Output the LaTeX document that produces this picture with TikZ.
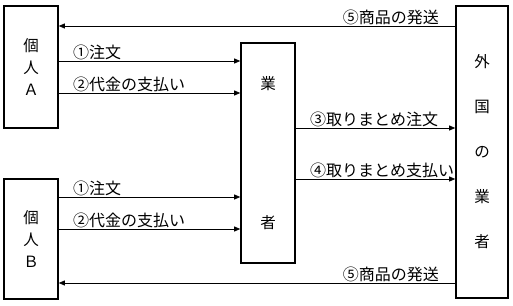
\documentclass[tikz,border=0pt]{standalone}
\usepackage{fontspec}
\newfontfamily\jpfont{Noto Sans CJK JP}
\usetikzlibrary{arrows.meta,positioning,calc}

\begin{document}
\begin{tikzpicture}[x=1pt, y=-1pt,
    box/.style={draw, line width=1.6pt, inner sep=0pt, align=center,
                font=\jpfont\fontsize{15.5}{#1}\selectfont},
    arr/.style={-{Triangle[length=6pt,width=5pt]}, line width=0.8pt},
    lbl/.style={font=\jpfont\fontsize{16}{18}\selectfont, inner sep=1pt}
  ]
    \useasboundingbox (0,0) rectangle (513,305);

    % --- Left: individuals ---
    \node[box=22, minimum width=54pt, minimum height=122pt] (A) at (31,67) {個\\人\\Ａ};
    \node[box=22, minimum width=54pt, minimum height=120pt] (B) at (31,239) {個\\人\\Ｂ};

    % --- Middle: dealer ---
    \node[box=139, minimum width=54pt, minimum height=220pt] (gyo) at (268,153) {業\\者};

    % --- Right: foreign dealer ---
    \node[box=45, minimum width=52pt, minimum height=292pt] (gaikoku) at (482,152) {外\\国\\の\\業\\者};

    % --- individuals -> dealer ---
    \foreach \p/\s/\t in {A/6/{①注文}, A/-26/{②代金の支払い},
                          B/42/{①注文}, B/10/{②代金の支払い}} {
      \coordinate (c) at ([yshift=\s pt]\p.east);
      \draw[arr] (c) -- (c -| gyo.west)
        node[lbl, pos=0, anchor=south west, xshift=13pt] {\t};
    }

    % --- dealer -> foreign dealer ---
    \foreach \s/\t in {25/{③取りまとめ注文}, -26/{④取りまとめ支払い}} {
      \coordinate (c) at ([yshift=\s pt]gyo.east);
      \draw[arr] (c) -- (c -| gaikoku.west)
        node[lbl, pos=0, anchor=south west, xshift=13pt] {\t};
    }

    % --- shipping back ---
    \foreach \p/\s in {A/126, B/-131} {
      \coordinate (c) at ([yshift=\s pt]gaikoku.west);
      \draw[arr] (c) -- (c -| \p.east)
        node[lbl, pos=0, anchor=south east, xshift=-15pt] {⑤商品の発送};
    }
  \end{tikzpicture}
\end{document}
